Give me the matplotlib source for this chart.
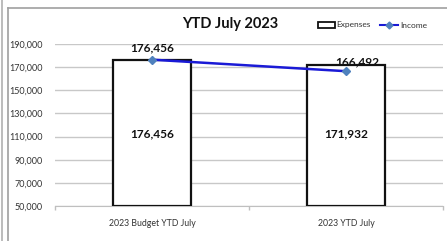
import matplotlib
matplotlib.use("Agg")
import matplotlib.pyplot as plt
from matplotlib.lines import Line2D
from matplotlib.patches import Rectangle

categories = ["2023 Budget YTD July", "2023 YTD July"]
expenses = [176456, 171932]
income = [176456, 166492]
yticks = [50000, 70000, 90000, 110000, 130000, 150000, 170000, 190000]
title = "YTD July 2023"

plt.rcParams['font.family'] = ['Lato', 'DejaVu Sans']

fig = plt.figure(figsize=(4.47, 2.41), dpi=100)
W, H = 447, 241

# outer borders
fig.add_artist(Line2D([1.5 / W, 1.5 / W], [0, 1], color="#b0b0b0", lw=1.2))
fig.add_artist(Line2D([7.5 / W, 7.5 / W], [0, 1 - 7.5 / H], color="#a0a0a0", lw=1.2))
fig.add_artist(Line2D([7.5 / W, 1], [1 - 7.5 / H, 1 - 7.5 / H], color="#a0a0a0", lw=1.2))

ax = fig.add_axes([55 / W, 1 - 206 / H, (443 - 55) / W, (206 - 44) / H])
x = list(range(len(categories)))
ax.bar(x, [e - 50000 for e in expenses], bottom=50000, width=0.4,
       facecolor="white", edgecolor="#111111", linewidth=1.6, zorder=3)
ax.plot(x, income, color="#1a1ad6", lw=1.8, zorder=4)
ax.plot(x, income, ls="none", marker="D", ms=4.5, color="#4f81bd", zorder=5)

ax.set_xlim(-0.5, 1.5)
ax.set_ylim(50000, 190000)
ax.set_yticks(yticks)
ax.set_yticklabels([f"{v:,}" for v in yticks], fontsize=6.5, color="#333333")
ax.tick_params(axis="y", length=0, pad=9)
ax.set_xticks(x)
ax.set_xticklabels(categories, fontsize=6.3, color="#333333")
ax.tick_params(axis="x", which="major", length=0, pad=9)
ax.set_xticks([-0.5, 0.5, 1.5], minor=True)
ax.tick_params(axis="x", which="minor", length=3, color="#bfbfbf", width=1)
ax.grid(axis="y", color="#c8c8c8", lw=1, zorder=0)
for s in ["left", "right", "top"]:
    ax.spines[s].set_visible(False)
ax.spines["bottom"].set_color("#bfbfbf")

for xi, e in zip(x, expenses):
    ax.text(xi, 112500, f"{e:,}", ha="center", va="center", fontsize=8.6,
            fontweight="bold", color="#111111", zorder=6)
ax.text(x[0], income[0] + 10500, f"{income[0]:,}", ha="center", va="center",
        fontsize=8.6, fontweight="bold", color="#111111", zorder=6)
ax.text(x[1] + 0.06, income[1] + 8000, f"{income[1]:,}", ha="center", va="center",
        fontsize=8.6, fontweight="bold", color="#111111", zorder=6)

fig.text(230 / W, 1 - 24 / H, title, ha="center", va="center", fontsize=10.5,
         fontweight="bold", color="#111111")

# legend
fig.add_artist(Rectangle((318 / W, 1 - 28 / H), 17 / W, 6 / H, facecolor="white",
                         edgecolor="#111111", lw=1.3))
fig.text(336 / W, 1 - 25 / H, "Expenses", ha="left", va="center", fontsize=6, color="#333333")
fig.add_artist(Line2D([380 / W, 398 / W], [1 - 25 / H, 1 - 25 / H], color="#1a1ad6", lw=1.5))
fig.add_artist(Line2D([389 / W], [1 - 25 / H], marker="D", ms=3.5, color="#4f81bd", ls="none"))
fig.text(400 / W, 1 - 25 / H, "Income", ha="left", va="center", fontsize=6, color="#333333")

fig.savefig("out.png", dpi=100)
